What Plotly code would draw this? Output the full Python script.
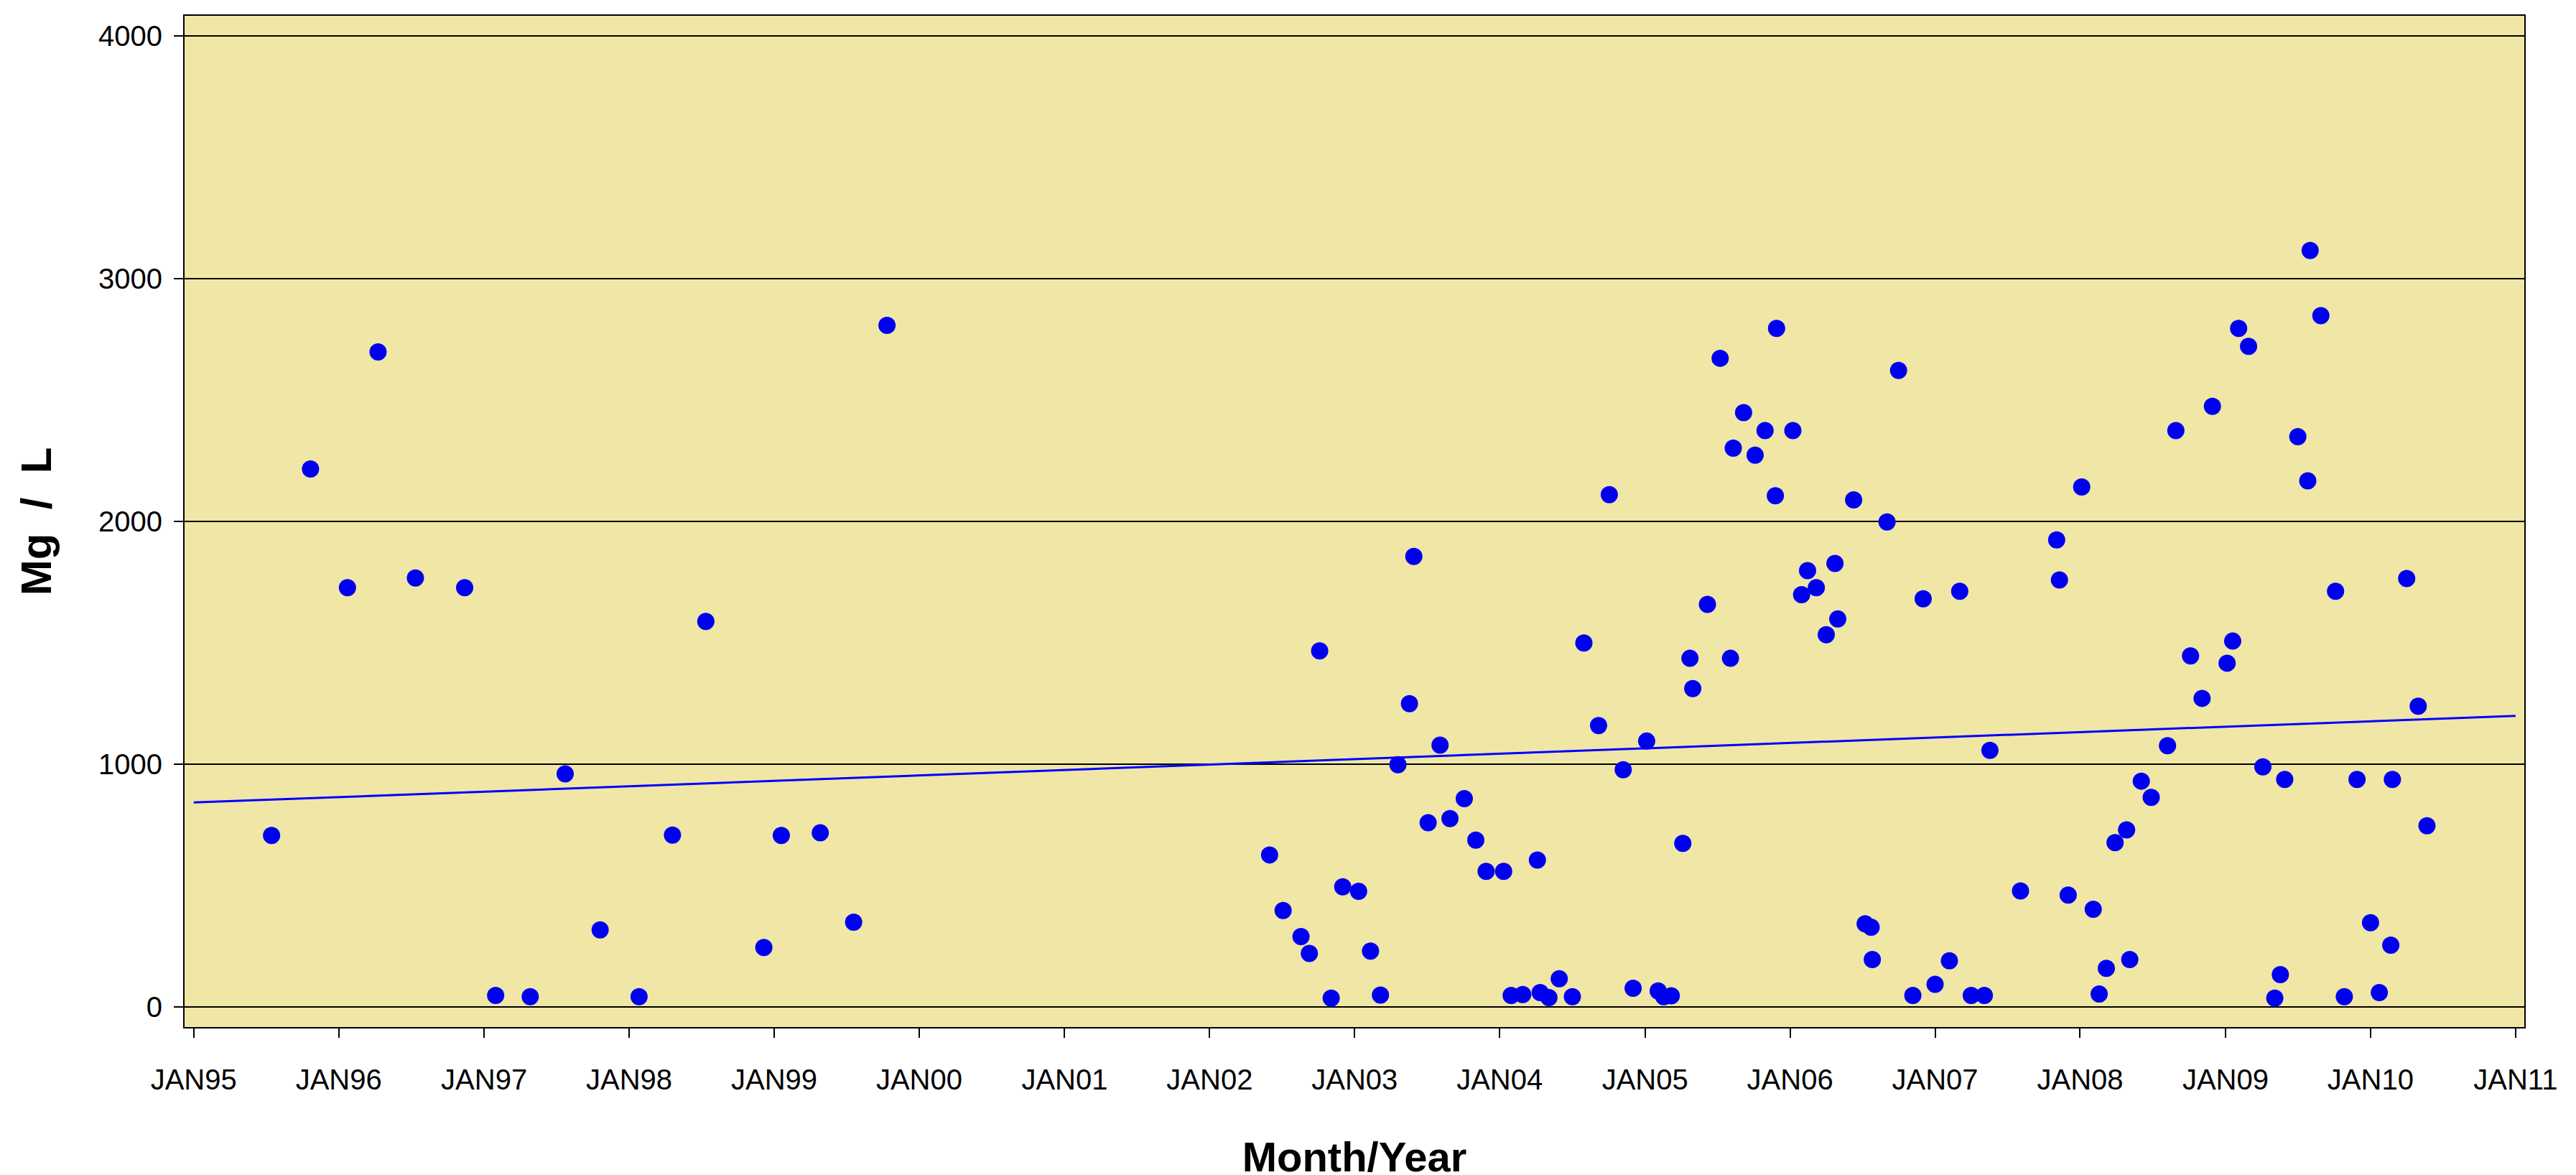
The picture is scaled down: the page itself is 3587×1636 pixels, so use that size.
import plotly.graph_objects as go

# ---- data ----
dates = [
    "1995-07-16", "1995-10-22", "1996-01-23", "1996-04-09", "1996-07-12", "1996-11-13",
    "1997-01-30", "1997-04-27", "1997-07-24", "1997-10-20", "1998-01-26", "1998-04-20",
    "1998-07-13", "1998-12-06", "1999-01-19", "1999-04-27", "1999-07-20", "1999-10-12",
    "2002-06-01", "2002-07-05", "2002-08-19", "2002-09-09", "2002-10-05", "2002-11-03",
    "2002-12-02", "2003-01-11", "2003-02-10", "2003-03-07", "2003-04-20", "2003-05-19",
    "2003-05-30", "2003-07-05", "2003-08-04", "2003-08-29", "2003-10-04", "2003-11-02",
    "2003-11-28", "2004-01-11", "2004-01-30", "2004-02-28", "2004-04-05", "2004-04-12",
    "2004-05-04", "2004-05-30", "2004-07-02", "2004-07-31", "2004-09-06", "2004-10-03",
    "2004-11-07", "2004-12-02", "2005-01-05", "2005-02-03", "2005-02-17", "2005-03-08",
    "2005-04-06", "2005-04-24", "2005-05-01", "2005-06-07", "2005-07-09", "2005-08-04",
    "2005-08-11", "2005-09-06", "2005-10-05", "2005-10-30", "2005-11-25", "2005-11-28",
    "2006-01-08", "2006-01-30", "2006-02-14", "2006-03-08", "2006-04-02", "2006-04-24",
    "2006-05-01", "2006-06-10", "2006-07-09", "2006-07-24", "2006-07-27", "2006-09-02",
    "2006-10-01", "2006-11-06", "2006-12-02", "2007-01-01", "2007-02-06", "2007-03-04",
    "2007-04-02", "2007-05-05", "2007-05-19", "2007-08-04", "2007-11-03", "2007-11-10",
    "2007-12-02", "2008-01-05", "2008-02-03", "2008-02-18", "2008-03-07", "2008-03-29",
    "2008-04-27", "2008-05-05", "2008-06-03", "2008-06-28", "2008-08-08", "2008-08-29",
    "2008-10-05", "2008-11-03", "2008-11-29", "2009-01-05", "2009-01-19", "2009-02-03",
    "2009-02-28", "2009-04-05", "2009-05-05", "2009-05-19", "2009-05-30", "2009-07-02",
    "2009-07-27", "2009-08-02", "2009-08-29", "2009-10-05", "2009-10-27", "2009-11-28",
    "2010-01-01", "2010-01-23", "2010-02-21", "2010-02-25", "2010-04-02", "2010-05-01",
    "2010-05-23",
]
mg_per_l = [
    706, 2216, 1727, 2698, 1767, 1727,
    47, 42, 960, 317, 42, 708,
    1588, 245, 706, 717, 349, 2808,
    626, 397, 290, 220, 1467, 36,
    495, 476, 230, 49, 998, 1249,
    1856, 759, 1078, 776, 858, 687,
    558, 558, 47, 51, 605, 59,
    38, 116, 42, 1499, 1159, 2110,
    977, 77, 1095, 66, 42, 46,
    674, 1436, 1311, 1658, 2672, 1436,
    2302, 2448, 2273, 2374, 2106, 2795,
    2374, 1698, 1797, 1727, 1533, 1827,
    1598, 2089, 342, 328, 195, 1998,
    2622, 47, 1681, 93, 190, 1712,
    47, 47, 1057, 478, 1924, 1759,
    461, 2142, 402, 53, 159, 677,
    729, 195, 930, 863, 1076, 2374,
    1446, 1271, 2474, 1416, 1507, 2795,
    2721, 989, 36, 133, 937, 2349,
    2167, 3116, 2848, 1712, 42, 937,
    347, 59, 254, 937, 1765, 1239,
    746,
]

trend_dates = ["1995-01-01", "2011-01-01"]
trend_values = [842, 1199]

tick_dates = ["%d-01-01" % y for y in range(1995, 2012)]
tick_labels = ["JAN95", "JAN96", "JAN97", "JAN98", "JAN99", "JAN00", "JAN01", "JAN02",
               "JAN03", "JAN04", "JAN05", "JAN06", "JAN07", "JAN08", "JAN09", "JAN10", "JAN11"]
y_ticks = [0, 1000, 2000, 3000, 4000]

fig = go.Figure()
fig.add_trace(go.Scatter(
    x=trend_dates, y=trend_values, mode="lines",
    line=dict(color="#0000FF", width=3), showlegend=False, hoverinfo="skip"))
fig.add_trace(go.Scatter(
    x=dates, y=mg_per_l, mode="markers",
    marker=dict(color="#0000F0", size=24, line=dict(width=0)), showlegend=False))

fig.update_layout(
    width=3587, height=1636,
    margin=dict(l=249, r=80, t=13, b=211),
    paper_bgcolor="white",
    plot_bgcolor="#F0E6A6",
    font=dict(family="Liberation Sans, Arial, sans-serif", color="black"),
    xaxis=dict(
        type="date",
        range=["1994-12-09", "2011-01-23"],
        tickmode="array", tickvals=tick_dates, ticktext=tick_labels,
        tickfont=dict(size=40),
        ticks="outside", ticklen=13, tickwidth=2, tickcolor="black",
        ticklabelstandoff=24,
        showgrid=False, zeroline=False,
        showline=True, linecolor="black", linewidth=2, mirror=True,
        title=dict(text="<b>Month/Year</b>", font=dict(size=58), standoff=66),
    ),
    yaxis=dict(
        range=[-83, 4083],
        tickmode="array", tickvals=y_ticks,
        tickfont=dict(size=40),
        ticks="outside", ticklen=13, tickwidth=2, tickcolor="black",
        ticklabelstandoff=8,
        showgrid=True, gridcolor="black", gridwidth=2,
        zeroline=False,
        showline=True, linecolor="black", linewidth=2, mirror=True,
        title=dict(text="<b>Mg  /  L</b>", font=dict(size=60), standoff=46),
    ),
)

fig.write_html("out.html")
